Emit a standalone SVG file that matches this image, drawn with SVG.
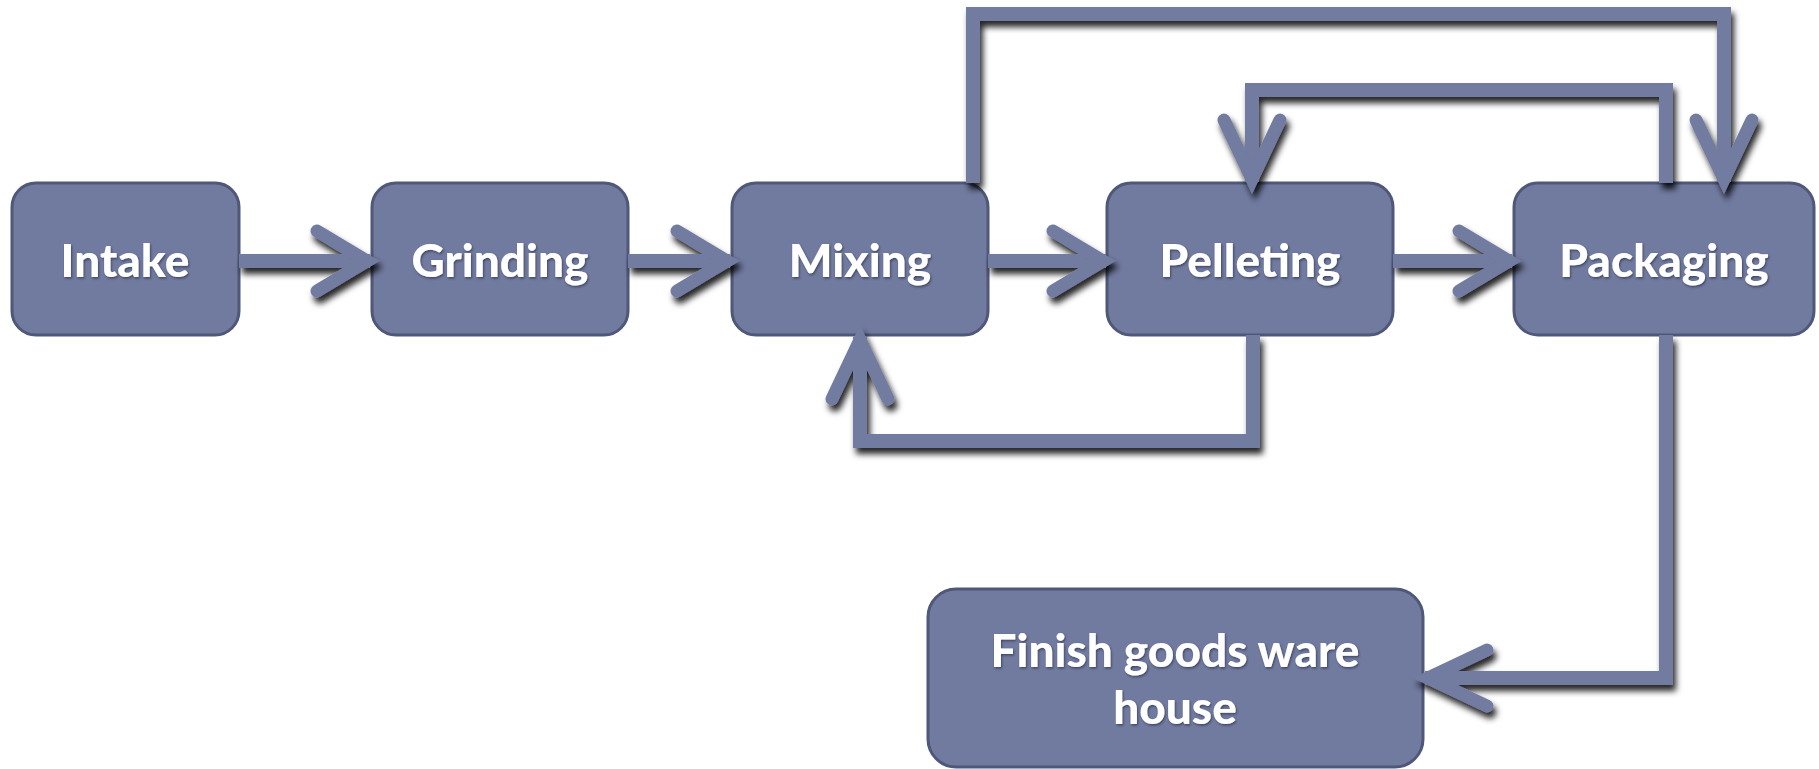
<svg xmlns="http://www.w3.org/2000/svg" width="1819" height="769" viewBox="0 0 1819 769">
<defs>
<style>
.node rect{fill:#717BA0;stroke:#4F5878;stroke-width:3}
.node text{fill:#fff;font-family:Lato,"Liberation Sans",sans-serif;font-weight:900;font-size:46px;text-anchor:middle;filter:url(#ts)}
.conn path{fill:none;stroke:#717BA0;stroke-width:14;stroke-linejoin:miter}
.ah{fill:none;stroke:#717BA0;stroke-width:13;stroke-linecap:round;stroke-linejoin:miter}
</style>
<filter id="sh" x="-10%" y="-10%" width="130%" height="130%">
<feDropShadow dx="3" dy="6" stdDeviation="3" flood-color="#000" flood-opacity="0.85"/>
</filter>
<filter id="ts" x="-10%" y="-20%" width="120%" height="150%">
<feDropShadow dx="1" dy="1.5" stdDeviation="1" flood-color="#2a2f45" flood-opacity="0.7"/>
</filter>
<marker id="aH" markerUnits="userSpaceOnUse" markerWidth="140" markerHeight="140" refX="0" refY="0" orient="auto" viewBox="-70 -70 140 140" overflow="visible">
<path class="ah" d="M-53,-30 L-3,0 L-53,30"/>
</marker>
<marker id="aV" markerUnits="userSpaceOnUse" markerWidth="160" markerHeight="160" refX="0" refY="0" orient="auto" viewBox="-80 -80 160 160" overflow="visible">
<path class="ah" d="M-62,-28 L-3,0 L-62,28"/>
</marker>
</defs>
<rect width="1819" height="769" fill="#fff"/>
<g id="intake" class="node"><rect x="12" y="183" width="227" height="152" rx="24"/><text x="125" y="277">Intake</text></g>
<g id="grinding" class="node"><rect x="372" y="183" width="256" height="152" rx="24"/><text x="500" y="277">Grinding</text></g>
<g id="mixing" class="node"><rect x="732" y="183" width="256" height="152" rx="24"/><text x="860" y="277">Mixing</text></g>
<g id="pelleting" class="node"><rect x="1107" y="183" width="286" height="152" rx="24"/><text x="1250" y="277">Pelleting</text></g>
<g id="packaging" class="node"><rect x="1514" y="183" width="300" height="152" rx="24"/><text x="1664" y="277">Packaging</text></g>
<g id="warehouse" class="node"><rect x="928" y="589" width="495" height="178" rx="28"/><text x="1175" y="667">Finish goods ware</text><text x="1175" y="724">house</text></g>
<g id="connectors" class="conn" filter="url(#sh)">
<path d="M239,261 H370" marker-end="url(#aH)"/>
<path d="M628,261 H730" marker-end="url(#aH)"/>
<path d="M988,261 H1106" marker-end="url(#aH)"/>
<path d="M1393,261 H1512" marker-end="url(#aH)"/>
<path d="M973,183 V14 H1724 V182" marker-end="url(#aV)"/>
<path d="M1666,183 V90 H1252 V182" marker-end="url(#aV)"/>
<path d="M1253,335 V441 H860 V337" marker-end="url(#aV)"/>
<path d="M1666,335 V678 H1425" marker-end="url(#aV)"/>
</g>
</svg>
